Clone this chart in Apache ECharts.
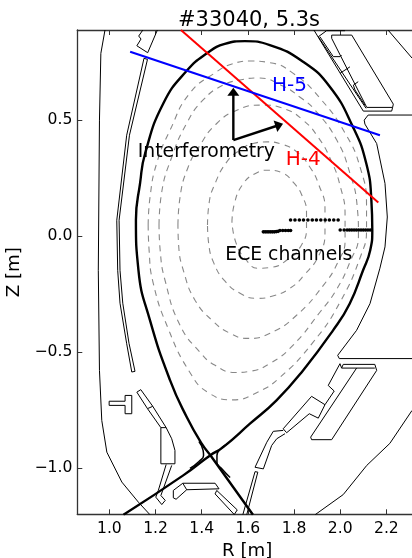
<!DOCTYPE html>
<html>
<head>
<meta charset="utf-8">
<style>html,body{margin:0;padding:0;background:#fff}#c{width:412px;height:558px}</style>
<script src="https://cdn.jsdelivr.net/npm/echarts@6/dist/echarts.min.js"></script>
</head>
<body>
<div id="c"></div>
<script>
const titleText = '#33040, 5.3s';
const xName = 'R [m]';
const yName = 'Z [m]';
const xTicks = [1.0, 1.2, 1.4, 1.6, 1.8, 2.0, 2.2];
const yTicks = [-1.0, -0.5, 0.0, 0.5];

const separatrix = [[1.622,-1.202],[1.443,-0.953],[1.400,-0.895],[1.335,-0.78],[1.263,-0.622],[1.176,-0.363],[1.126,-0.147],[1.115,0.07],[1.133,0.229],[1.155,0.358],[1.234,0.574],[1.335,0.714],[1.426,0.792],[1.50,0.83],[1.587,0.842],[1.695,0.825],[1.839,0.753],[1.955,0.645],[2.055,0.472],[2.113,0.314],[2.135,0.155],[2.139,0.026],[2.130,-0.06],[2.099,-0.147],[2.041,-0.291],[1.969,-0.406],[1.839,-0.579],[1.724,-0.708],[1.609,-0.809],[1.493,-0.91],[1.436,-0.946],[1.320,-1.032],[1.061,-1.202]];
const privateLeft = [[1.388,-0.886],[1.406,-0.924],[1.408,-0.946],[1.388,-0.972],[1.349,-1.002]];
const privateRight = [[1.514,-0.894],[1.479,-0.920],[1.466,-0.946],[1.466,-0.976],[1.488,-1.004],[1.523,-1.041]];

const surface1 = [[1.531,0.060],[1.542,0.143],[1.580,0.227],[1.631,0.270],[1.687,0.285],[1.748,0.274],[1.800,0.229],[1.834,0.177],[1.854,0.104],[1.854,0.035],[1.826,-0.048],[1.774,-0.099],[1.704,-0.134],[1.644,-0.138],[1.588,-0.097],[1.549,-0.030],[1.531,0.060]];
const surface2 = [[1.425,0.048],[1.432,0.143],[1.453,0.216],[1.508,0.320],[1.566,0.372],[1.622,0.400],[1.683,0.407],[1.748,0.397],[1.813,0.363],[1.869,0.298],[1.908,0.220],[1.934,0.121],[1.934,0.017],[1.908,-0.082],[1.847,-0.164],[1.782,-0.225],[1.704,-0.259],[1.640,-0.268],[1.566,-0.246],[1.501,-0.194],[1.453,-0.117],[1.430,-0.030],[1.425,0.048]];
const surface3 = [[1.297,0.048],[1.306,0.168],[1.341,0.298],[1.393,0.393],[1.458,0.480],[1.552,0.544],[1.661,0.566],[1.761,0.549],[1.839,0.501],[1.904,0.428],[1.960,0.328],[1.999,0.220],[2.021,0.091],[2.021,-0.017],[1.990,-0.112],[1.927,-0.212],[1.811,-0.341],[1.696,-0.419],[1.601,-0.441],[1.523,-0.419],[1.445,-0.363],[1.371,-0.276],[1.323,-0.156],[1.300,-0.039],[1.297,0.048]];
const surface4 = [[1.215,0.048],[1.226,0.186],[1.270,0.341],[1.335,0.488],[1.406,0.588],[1.492,0.652],[1.566,0.674],[1.644,0.683],[1.752,0.648],[1.826,0.600],[1.891,0.544],[1.985,0.415],[2.042,0.272],[2.073,0.134],[2.079,0.004],[2.042,-0.112],[1.982,-0.233],[1.912,-0.328],[1.795,-0.471],[1.696,-0.549],[1.609,-0.583],[1.544,-0.588],[1.458,-0.557],[1.393,-0.501],[1.306,-0.384],[1.241,-0.190],[1.220,-0.060],[1.215,0.048]];
const surface5 = [[1.168,0.048],[1.176,0.168],[1.205,0.315],[1.263,0.458],[1.349,0.618],[1.465,0.710],[1.531,0.743],[1.609,0.756],[1.696,0.749],[1.795,0.704],[1.912,0.596],[2.021,0.445],[2.086,0.298],[2.114,0.134],[2.114,0.026],[2.090,-0.082],[1.999,-0.285],[1.882,-0.458],[1.739,-0.609],[1.640,-0.674],[1.536,-0.706],[1.427,-0.674],[1.349,-0.588],[1.254,-0.397],[1.189,-0.199],[1.172,-0.060],[1.168,0.048]];

const wallOuterLeft = [[0.981,0.89],[0.963,0.789],[0.957,0.501],[0.952,-0.147],[0.957,-0.579],[0.967,-0.795],[0.989,-0.932],[1.054,-1.061],[1.126,-1.148],[1.176,-1.202]];
const wallRight = [[2.311,0.523],[2.121,0.523],[2.104,0.501],[2.107,0.484],[2.158,0.400],[2.194,0.228],[2.204,0.083],[2.194,-0.046],[2.172,-0.138],[2.129,-0.291],[2.071,-0.406],[1.989,-0.514],[1.996,-0.528],[2.311,-0.528]];
const wallLowerRight = [[2.311,-0.752],[2.215,-0.894],[2.115,-0.989],[2.013,-1.115],[1.891,-1.202]];
const wallUpperRight = [[2.207,0.89],[2.311,0.769]];
const heatShield = [[1.150,0.768],[1.075,0.436],[1.032,0.069],[1.036,-0.147],[1.046,-0.289],[1.075,-0.464],[1.097,-0.586],[1.111,-0.583],[1.085,-0.462],[1.058,-0.289],[1.046,-0.147],[1.042,0.069],[1.087,0.436],[1.165,0.763],[1.150,0.768]];
const antenna = [[1.145,0.89],[1.127,0.864],[1.137,0.851],[1.119,0.822],[1.166,0.792],[1.202,0.876],[1.208,0.89]];
const tileUpper = [[1.963,0.868],[2.050,0.868],[2.230,0.570],[2.227,0.556],[2.115,0.556],[1.963,0.854],[1.963,0.868]];
const plateUpperA = [[1.886,0.89],[2.100,0.540],[2.223,0.540],[2.227,0.556]];
const plateUpperB = [[2.021,0.887],[1.941,0.887],[1.905,0.861],[2.112,0.552]];
const plateCurveA = [[1.912,0.861],[1.970,0.775],[1.999,0.775],[2.006,0.782]];
const plateCross = [[1.999,0.703],[2.042,0.731]];
const plateCurveB = [[2.107,0.566],[2.064,0.631],[2.057,0.652],[2.078,0.667]];
const tileLower = [[2.071,-0.569],[1.872,-0.867],[1.876,-0.878],[1.963,-0.878],[2.158,-0.579],[2.150,-0.553],[2.013,-0.553],[2.006,-0.569],[2.150,-0.569]];
const baffleRight = [[2.006,-0.569],[1.999,-0.550],[1.948,-0.644],[1.974,-0.668],[1.934,-0.727],[1.876,-0.691],[1.753,-0.831],[1.768,-0.848],[1.866,-0.766],[1.905,-0.785],[1.934,-0.727]];
const targetOuter = [[1.753,-0.838],[1.710,-0.842],[1.682,-0.889],[1.631,-0.997],[1.667,-1.004],[1.703,-0.903],[1.725,-0.874],[1.761,-0.852]];
const rodOuter = [[1.578,-1.202],[1.631,-1.016],[1.643,-1.018],[1.595,-1.202]];
const tShape = [[0.999,-0.712],[1.068,-0.712],[1.068,-0.687],[1.097,-0.687],[1.097,-0.766],[1.068,-0.766],[1.068,-0.730],[0.999,-0.730],[0.999,-0.712]];
const tileInner = [[1.119,-0.673],[1.136,-0.662],[1.188,-0.734],[1.246,-0.826],[1.223,-0.826],[1.165,-0.744],[1.119,-0.673]];
const tileInnerSep = [[1.165,-0.744],[1.188,-0.734]];
const targetInner = [[1.223,-0.826],[1.223,-0.982],[1.284,-0.982],[1.284,-0.924],[1.270,-0.874],[1.246,-0.826]];
const legInner = [[1.246,-0.985],[1.212,-1.097],[1.201,-1.126],[1.227,-1.158],[1.242,-1.140],[1.223,-1.119],[1.270,-0.989]];
const domeTop = [[1.318,-1.066],[1.458,-1.066],[1.475,-1.09],[1.335,-1.094],[1.318,-1.066],[1.277,-1.097],[1.277,-1.129],[1.289,-1.135],[1.335,-1.094]];
const domeRight = [[1.465,-1.097],[1.554,-1.181],[1.541,-1.201],[1.458,-1.112],[1.465,-1.097]];

const lineH4 = [[1.310,0.89],[2.165,0.146]];
const lineH5 = [[1.090,0.796],[2.172,0.436]];
const arrowUp = [[1.537,0.415],[1.537,0.623]];
const arrowRight = [[1.537,0.415],[1.736,0.48]];

const eceGroupA = [[1.667,0.019],[1.675,0.019],[1.683,0.019],[1.691,0.019],[1.699,0.019],[1.707,0.019],[1.715,0.019],[1.723,0.02],[1.731,0.021],[1.739,0.025],[1.751,0.025],[1.763,0.025],[1.775,0.025],[1.785,0.025]];
const eceGroupB = [[1.785,0.07],[1.804,0.07],[1.823,0.07],[1.841,0.07],[1.860,0.07],[1.879,0.07],[1.897,0.07],[1.916,0.07],[1.935,0.07],[1.953,0.07],[1.972,0.07],[1.991,0.07]];
const eceGroupC = [[2.000,0.027],[2.017,0.027],[2.030,0.027],[2.040,0.027],[2.050,0.027],[2.060,0.027],[2.070,0.027],[2.080,0.027],[2.090,0.027],[2.100,0.027],[2.110,0.027],[2.120,0.027],[2.130,0.027]];

const notes = [
  {text:'H-5', at:[1.78,0.65], color:'#0000ff', size:20},
  {text:'H-4', at:[1.84,0.33], color:'#ff0000', size:20},
  {text:'Interferometry', at:[1.42,0.362], color:'#000000', size:18.8},
  {text:'ECE channels', at:[1.777,-0.08], color:'#000000', size:18.8}
];

const font = 'DejaVu Sans';
const thin = d => ({type:'line', data:d, showSymbol:false, symbol:'none', silent:true, animation:false, z:2,
  lineStyle:{color:'#000', width:1}});
const walls = [wallOuterLeft,wallRight,wallLowerRight,wallUpperRight,heatShield,antenna,tileUpper,plateUpperA,plateUpperB,plateCurveA,plateCross,plateCurveB,tileLower,baffleRight,targetOuter,rodOuter,tShape,tileInner,tileInnerSep,targetInner,legInner,domeTop,domeRight];
const flux = [surface1,surface2,surface3,surface4,surface5];
const dots = d => ({type:'scatter', data:d, symbol:'circle', symbolSize:3.6, silent:true, animation:false, z:6, itemStyle:{color:'#000', opacity:1}});
const arrow = (d,rot) => ({type:'line', silent:true, animation:false, z:6, showSymbol:true, showAllSymbol:true,
  data:[{value:d[0], symbol:'none'},{value:d[1], symbol:'triangle', symbolSize:[12,8], symbolRotate:rot}],
  lineStyle:{color:'#000', width:2.4}, itemStyle:{color:'#000'}});

const series = [];
walls.forEach(d => series.push(thin(d)));
flux.forEach(d => series.push({type:'line', data:d, showSymbol:false, symbol:'none', smooth:0.5, silent:true, animation:false, z:3,
  lineStyle:{color:'#888', width:1.1, type:[6,5]}}));
series.push({type:'line', data:separatrix, showSymbol:false, symbol:'none', smooth:0.5, silent:true, animation:false, z:4, lineStyle:{color:'#000', width:2.4}});
[privateLeft,privateRight].forEach(d => series.push({type:'line', data:d, showSymbol:false, symbol:'none', smooth:0.5, silent:true, animation:false, z:4, lineStyle:{color:'#000', width:1.5}}));
series.push({type:'line', data:lineH4, showSymbol:false, symbol:'none', silent:true, animation:false, z:5, lineStyle:{color:'#ff0000', width:2}});
series.push({type:'line', data:lineH5, showSymbol:false, symbol:'none', silent:true, animation:false, z:5, lineStyle:{color:'#0000ff', width:2}});
series.push(arrow(arrowUp,0));
series.push(arrow(arrowRight,-72));
[eceGroupA,eceGroupB,eceGroupC].forEach(d => series.push(dots(d)));
series.push({type:'scatter', silent:true, animation:false, z:8, symbolSize:1, itemStyle:{color:'rgba(0,0,0,0)', opacity:1},
  data:notes.map(n => ({value:n.at, label:{show:true, position:'inside', formatter:n.text, color:n.color, fontFamily:font, fontSize:n.size}}))});

const axisCommon = {type:'value', min:0.861, max:2.311, splitLine:{show:false},
  axisLine:{show:true, onZero:false, lineStyle:{color:'#333', width:1.3}}};
const option = {
  animation:false,
  backgroundColor:'#fff',
  title:{text:titleText, left:244, top:5, textAlign:'center', textStyle:{fontFamily:font, fontSize:21, fontWeight:'normal', color:'#000'}},
  grid:{left:77.3, top:30, right:0, bottom:43.7, containLabel:false, outerBoundsMode:'none'},
  xAxis:[
    Object.assign({}, axisCommon, {position:'bottom', name:xName, nameLocation:'middle', nameGap:26,
      nameTextStyle:{fontFamily:font, fontSize:18.2, color:'#000', padding:[0,0,0,5]},
      axisTick:{show:true, inside:true, length:5, customValues:xTicks, lineStyle:{color:'#333', width:1}},
      axisLabel:{show:true, customValues:xTicks, margin:7, fontFamily:font, fontSize:15.6, color:'#000',
        formatter:v => v.toFixed(1)}}),
    Object.assign({}, axisCommon, {position:'top',
      axisTick:{show:true, inside:true, length:5, customValues:xTicks, lineStyle:{color:'#333', width:1}},
      axisLabel:{show:false}})
  ],
  yAxis:{type:'value', min:-1.2, max:0.89, position:'left', splitLine:{show:false}, name:yName, nameLocation:'middle', nameGap:42, nameRotate:90,
    nameTextStyle:{fontFamily:font, fontSize:18.2, color:'#000'},
    axisLine:{show:true, onZero:false, lineStyle:{color:'#333', width:1.3}},
    axisTick:{show:true, inside:true, length:5, customValues:yTicks, lineStyle:{color:'#333', width:1}},
    axisLabel:{show:true, customValues:yTicks, margin:5, fontFamily:font, fontSize:15.6, color:'#000',
      formatter:v => (v < 0 ? '\u2212' : '') + Math.abs(v).toFixed(1)}},
  series
};
echarts.init(document.getElementById('c'), null, {renderer:'canvas'}).setOption(option);
</script>
</body>
</html>
